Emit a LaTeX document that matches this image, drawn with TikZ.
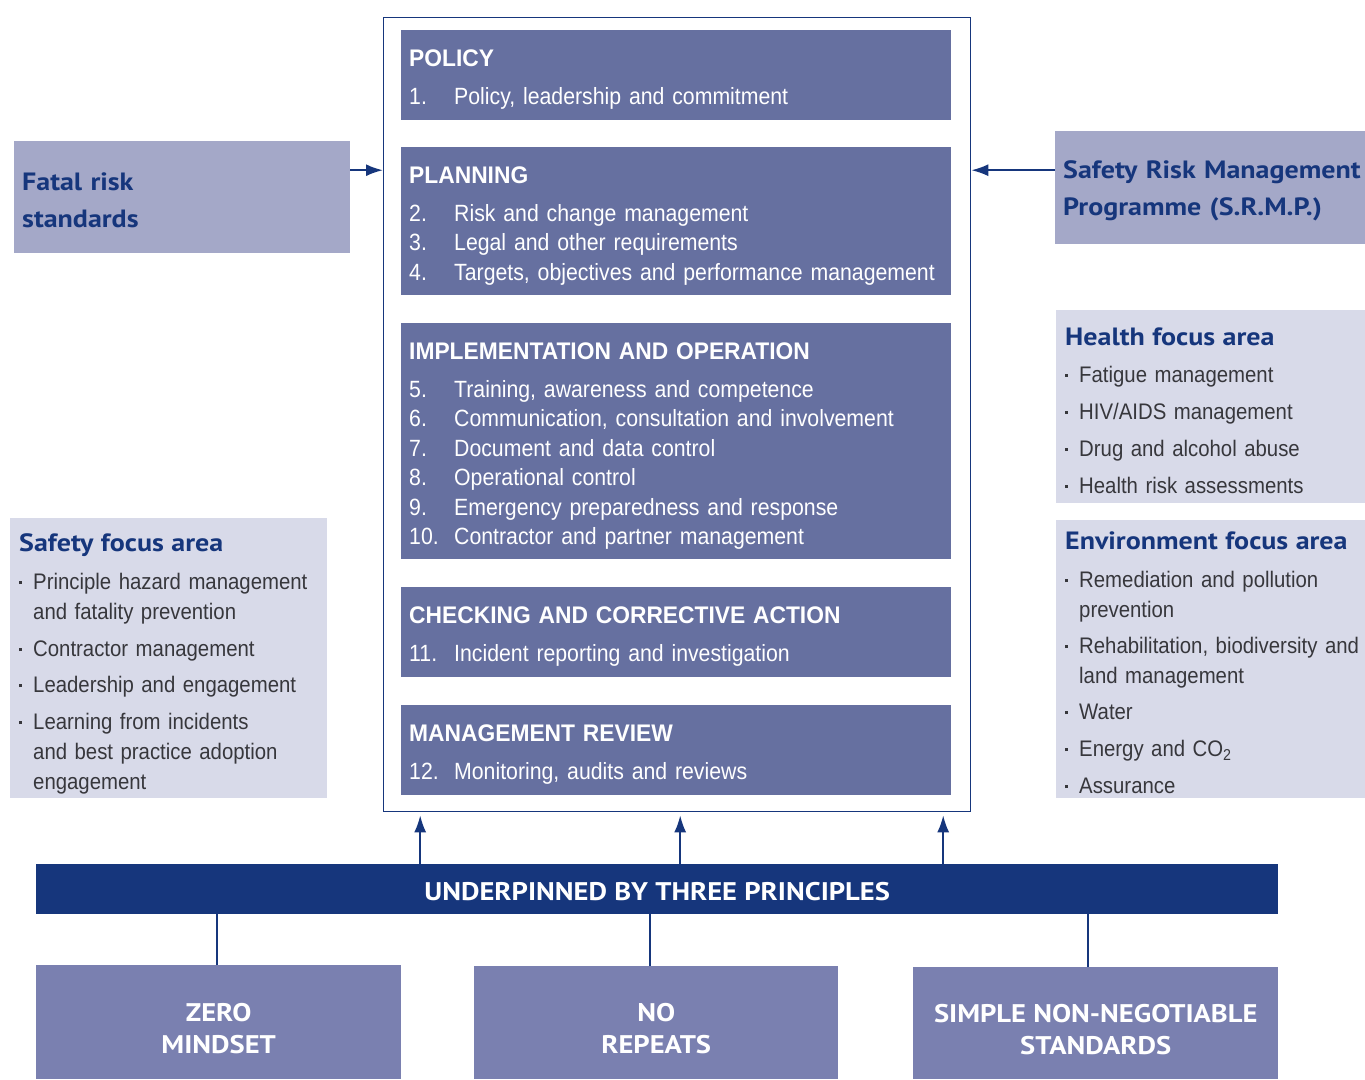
\documentclass[tikz,border=0pt]{standalone}
\usepackage{fontspec}
\setmainfont{Liberation Sans}[FakeStretch=0.905]
\newfontfamily\titlefont{Liberation Sans}[FakeStretch=0.95]
\newfontfamily\headfont{PT Sans}[FakeStretch=1.12]
\usepackage{tikz}
\usetikzlibrary{positioning,arrows.meta}
\definecolor{srmnavy}{RGB}{22,54,124}
\definecolor{srmsection}{RGB}{102,112,160}
\definecolor{srmside}{RGB}{164,168,200}
\definecolor{srmfocus}{RGB}{216,218,233}
\definecolor{srmprinc}{RGB}{122,128,176}
\definecolor{srmgrey}{RGB}{55,55,60}

\newcommand{\secitem}[2]{\makebox[45pt][l]{#1}#2}
\newcommand{\sectitle}[1]{{\titlefont\bfseries\fontsize{24}{29.5}\selectfont#1}}
\newcommand{\bul}{\makebox[14pt][l]{\raisebox{5.5pt}{\rule{2.6pt}{2.6pt}}}}
\newcommand{\hang}{\hspace*{14pt}}
\newcommand{\headtext}[1]{{\headfont\bfseries\fontsize{25}{30}\selectfont\color{srmnavy}#1}}
\newcommand{\topstrut}[1]{\rule{0pt}{#1pt}}

\begin{document}
\begin{tikzpicture}[x=1pt,y=-1pt,
  section/.style={fill=srmsection,text=white,anchor=north west,minimum width=550,
    text width=534,inner xsep=8,align=left,font=\fontsize{23.5}{29.5}\selectfont},
  sidebox/.style={fill=srmside,text=srmnavy,anchor=north west,inner xsep=8,align=left,
    font=\headfont\bfseries\fontsize{25}{37}\selectfont},
  focus/.style={fill=srmfocus,text=srmgrey,anchor=north west,inner xsep=9,align=left,
    font=\fontsize{22.5}{30}\selectfont},
  princ/.style={fill=srmprinc,text=white,anchor=north west,align=center,
    font=\headfont\bfseries\fontsize{25.5}{32}\selectfont},
  arr/.style={draw=srmnavy,line width=2,-{Latex[length=17pt,width=12pt]}},
  link/.style={draw=srmnavy,line width=2}]
\useasboundingbox (0,0) rectangle (1365,1079);

% OHSAS elements
\node[draw=srmnavy,line width=1.3,anchor=north west,minimum width=587,minimum height=794] (frame) at (383,17) {};
\node[section,minimum height=90] (policy) at (401,30) {\topstrut{26}\sectitle{POLICY}\\[8.5pt]
  \secitem{1.}{Policy, leadership and commitment}};
\node[section,minimum height=148] (planning) at (401,147) {\topstrut{26}\sectitle{PLANNING}\\[8.5pt]
  \secitem{2.}{Risk and change management}\\
  \secitem{3.}{Legal and other requirements}\\
  \secitem{4.}{Targets, objectives and performance management}};
\node[section,minimum height=236] (implement) at (401,323) {\topstrut{26}\sectitle{IMPLEMENTATION AND OPERATION}\\[8.5pt]
  \secitem{5.}{Training, awareness and competence}\\
  \secitem{6.}{Communication, consultation and involvement}\\
  \secitem{7.}{Document and data control}\\
  \secitem{8.}{Operational control}\\
  \secitem{9.}{Emergency preparedness and response}\\
  \secitem{10.}{Contractor and partner management}};
\node[section,minimum height=90] (checking) at (401,587) {\topstrut{26}\sectitle{CHECKING AND CORRECTIVE ACTION}\\[8.5pt]
  \secitem{11.}{Incident reporting and investigation}};
\node[section,minimum height=90] (review) at (401,705) {\topstrut{26}\sectitle{MANAGEMENT REVIEW}\\[8.5pt]
  \secitem{12.}{Monitoring, audits and reviews}};

% inputs
\node[sidebox,minimum width=336,minimum height=112,text width=320] (fatal) at (14,141) {\topstrut{24}Fatal risk\\standards};
\node[sidebox,minimum width=310,minimum height=113,text width=294] (srmp) at (1055,131) {\topstrut{25}\mbox{Safety Risk Management}\\\mbox{Programme (S.R.M.P.)}};
\draw[arr] ([yshift=27pt]fatal.east) coordinate (fa) -- (fa -| frame.west);
\draw[arr] ([yshift=17.5pt]srmp.west) coordinate (sa) -- (sa -| frame.east);

% focus areas
\node[focus,minimum width=309,minimum height=193,text width=291] (health) at (1056,310) {\topstrut{25}\headtext{Health focus area}\\[7pt]
  \bul Fatigue management\\[7pt]
  \bul HIV/AIDS management\\[7pt]
  \bul Drug and alcohol abuse\\[7pt]
  \bul Health risk assessments};
\node[focus,minimum width=309,minimum height=278,text width=291] (environment) at (1056,520) {\topstrut{25}\headtext{Environment focus area}\\[8pt]
  \bul Remediation and pollution\\ \hang prevention\\[6pt]
  \bul \mbox{Rehabilitation, biodiversity and}\\ \hang land management\\[6pt]
  \bul Water\\[7pt]
  \bul Energy and CO\textsubscript{2}\\[7pt]
  \bul Assurance};
\node[focus,minimum width=317,minimum height=279,text width=299] (safety) at (10,518) {\topstrut{30}\headtext{Safety focus area}\\[8pt]
  \bul Principle hazard management\\ \hang and fatality prevention\\[7pt]
  \bul Contractor management\\[6pt]
  \bul Leadership and engagement\\[7pt]
  \bul Learning from incidents\\ \hang and best practice adoption\\ \hang engagement};

% principles
\node[fill=srmnavy,text=white,anchor=north west,minimum width=1242,minimum height=50,
  font=\headfont\bfseries\fontsize{25.5}{30}\selectfont] (bar) at (36,864) {\topstrut{22}UNDERPINNED BY THREE PRINCIPLES};
\node[princ,minimum width=365,minimum height=114] (zero) at (36,965) {\topstrut{30}ZERO\\MINDSET};
\node[princ,minimum width=364,minimum height=113] (norepeat) at (474,966) {\topstrut{30}NO\\REPEATS};
\node[princ,minimum width=365,minimum height=112] (simple) at (913,967) {\topstrut{30}SIMPLE NON-NEGOTIABLE\\STANDARDS};

\foreach \dx in {-237,23,286}
  \draw[arr,shorten >=3pt] ([xshift=\dx pt]bar.north) coordinate (up) -- (up |- frame.south);
\draw[link] ([xshift=-1.5pt]zero.north) coordinate (d1) -- (d1 |- bar.south);
\draw[link] ([xshift=-6pt]norepeat.north) coordinate (d2) -- (d2 |- bar.south);
\draw[link] ([xshift=-7.5pt]simple.north) coordinate (d3) -- (d3 |- bar.south);
\end{tikzpicture}
\end{document}
